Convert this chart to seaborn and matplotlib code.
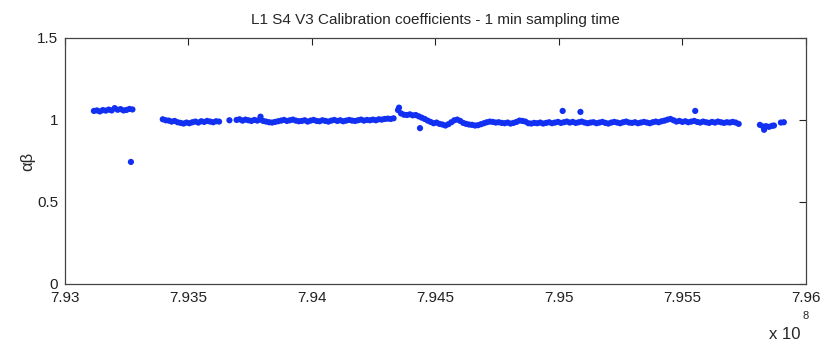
import numpy as np
import pandas as pd
import matplotlib
matplotlib.use("Agg")
import matplotlib.pyplot as plt
import seaborn as sns

# ---- data (time in units of 1e8 s, coefficient alpha*beta) ----
seg1_t = [7.93117, 7.93129, 7.93141, 7.93153, 7.93165, 7.93177, 7.93189,
          7.93201, 7.93213, 7.93225, 7.93237, 7.93249, 7.93261, 7.93273]
seg1_y = [1.055, 1.058, 1.052, 1.060, 1.057, 1.063, 1.058,
          1.072, 1.062, 1.066, 1.058, 1.061, 1.067, 1.064]

seg2_t = [7.93396, 7.93408, 7.93420, 7.93432, 7.93444, 7.93456, 7.93468,
          7.93480, 7.93492, 7.93504, 7.93516, 7.93528, 7.93540, 7.93552,
          7.93564, 7.93576, 7.93588, 7.93600, 7.93612, 7.93624]
seg2_y = [1.004, 0.998, 0.996, 0.990, 0.994, 0.986, 0.982,
          0.978, 0.984, 0.980, 0.986, 0.990, 0.984, 0.992,
          0.988, 0.994, 0.990, 0.986, 0.992, 0.990]

seg3_t = [7.93695, 7.93707, 7.93719, 7.93731, 7.93743, 7.93755, 7.93767,
          7.93779, 7.93791, 7.93803, 7.93815, 7.93827, 7.93839, 7.93851,
          7.93863, 7.93875, 7.93887, 7.93899, 7.93911, 7.93923, 7.93935,
          7.93947, 7.93959, 7.93971, 7.93983, 7.93995, 7.94007, 7.94019,
          7.94031, 7.94043, 7.94055, 7.94067, 7.94079, 7.94091, 7.94103,
          7.94115, 7.94127, 7.94139, 7.94151, 7.94163, 7.94175, 7.94187,
          7.94199, 7.94211, 7.94223, 7.94235, 7.94247, 7.94259, 7.94271,
          7.94283, 7.94295, 7.94307, 7.94319, 7.94331]
seg3_y = [1.000, 1.004, 0.996, 1.002, 0.998, 0.994, 1.000,
          0.996, 1.002, 0.994, 0.990, 0.986, 0.984, 0.988,
          0.992, 0.996, 1.000, 0.994, 0.998, 1.002, 0.996,
          0.992, 0.994, 0.998, 0.990, 0.996, 1.000, 0.994,
          0.992, 0.998, 0.994, 0.990, 0.996, 1.000, 0.994,
          0.998, 0.992, 0.996, 1.000, 0.996, 0.994, 0.998,
          1.002, 0.996, 1.000, 0.998, 1.002, 0.998, 1.004,
          1.002, 1.006, 1.008, 1.006, 1.010]

seg4_t = [7.94349, 7.94361, 7.94373, 7.94385, 7.94397, 7.94409, 7.94421,
          7.94433, 7.94445, 7.94457, 7.94469, 7.94481, 7.94493, 7.94505,
          7.94517, 7.94529, 7.94541, 7.94553, 7.94565, 7.94577, 7.94589,
          7.94601, 7.94613, 7.94625, 7.94637, 7.94649, 7.94661, 7.94673,
          7.94685, 7.94697, 7.94709, 7.94721, 7.94733, 7.94745, 7.94757,
          7.94769, 7.94781, 7.94793, 7.94805, 7.94817, 7.94829, 7.94841,
          7.94853, 7.94865, 7.94877, 7.94889, 7.94901, 7.94913, 7.94925,
          7.94937, 7.94949, 7.94961, 7.94973, 7.94985, 7.94997, 7.95009,
          7.95021, 7.95033, 7.95045, 7.95057, 7.95069, 7.95081, 7.95093,
          7.95105, 7.95117, 7.95129, 7.95141, 7.95153, 7.95165, 7.95177,
          7.95189, 7.95201, 7.95213, 7.95225, 7.95237, 7.95249, 7.95261,
          7.95273, 7.95285, 7.95297, 7.95309, 7.95321, 7.95333, 7.95345,
          7.95357, 7.95369, 7.95381, 7.95393, 7.95405, 7.95417, 7.95429,
          7.95441, 7.95453, 7.95465, 7.95477, 7.95489, 7.95501, 7.95513,
          7.95525, 7.95537, 7.95549, 7.95561, 7.95573, 7.95585, 7.95597,
          7.95609, 7.95621, 7.95633, 7.95645, 7.95657, 7.95669, 7.95681,
          7.95693, 7.95705, 7.95717, 7.95729]
seg4_y = [1.060, 1.040, 1.032, 1.030, 1.034, 1.028, 1.030,
          1.022, 1.014, 1.006, 0.996, 0.988, 0.980, 0.984,
          0.976, 0.972, 0.966, 0.974, 0.986, 0.998, 1.002,
          0.994, 0.982, 0.976, 0.972, 0.970, 0.966, 0.968,
          0.974, 0.980, 0.986, 0.990, 0.988, 0.984, 0.986,
          0.982, 0.980, 0.984, 0.978, 0.982, 0.988, 0.996,
          0.994, 0.990, 0.980, 0.978, 0.982, 0.980, 0.984,
          0.978, 0.982, 0.986, 0.980, 0.984, 0.988, 0.982,
          0.986, 0.990, 0.984, 0.988, 0.982, 0.986, 0.990,
          0.984, 0.980, 0.984, 0.986, 0.980, 0.984, 0.988,
          0.982, 0.978, 0.984, 0.988, 0.984, 0.980, 0.986,
          0.990, 0.984, 0.982, 0.986, 0.980, 0.984, 0.988,
          0.984, 0.980, 0.986, 0.990, 0.986, 0.992, 0.996,
          1.002, 1.006, 0.998, 0.990, 0.994, 0.988, 0.992,
          0.986, 0.990, 0.994, 0.988, 0.984, 0.990, 0.986,
          0.982, 0.988, 0.984, 0.990, 0.986, 0.982, 0.986,
          0.984, 0.988, 0.984, 0.976]

seg5_t = [7.95815, 7.95828, 7.95832, 7.95840, 7.95852, 7.95864, 7.95872,
          7.95900, 7.95912]
seg5_y = [0.970, 0.960, 0.940, 0.962, 0.958, 0.964, 0.966,
          0.984, 0.986]

extra_t = [7.93267, 7.93666, 7.93792, 7.94353, 7.94438, 7.95016, 7.95088, 7.95553]
extra_y = [0.744, 0.998, 1.020, 1.075, 0.950, 1.055, 1.049, 1.055]

x_ticks = [7.93, 7.935, 7.94, 7.945, 7.95, 7.955, 7.96]
x_tick_labels = ["7.93", "7.935", "7.94", "7.945", "7.95", "7.955", "7.96"]
y_ticks = [0, 0.5, 1, 1.5]
y_tick_labels = ["0", "0.5", "1", "1.5"]

title = "L1 S4 V3 Calibration coefficients - 1 min sampling time"

# ---- build table ----
t_all = seg1_t + seg2_t + seg3_t + seg4_t + seg5_t + extra_t
y_all = seg1_y + seg2_y + seg3_y + seg4_y + seg5_y + extra_y
df = pd.DataFrame({"t": np.array(t_all) * 1e8, "ab": y_all})

sns.set_style("white")
plt.rcParams["font.family"] = ["Liberation Sans", "DejaVu Sans"]

fig = plt.figure(figsize=(8.21, 3.48), dpi=100)
ax = fig.add_axes([0.0792, 0.184, 0.902, 0.707])

sns.scatterplot(data=df, x="t", y="ab", ax=ax, s=20, color="#1230f2",
                edgecolor="none", linewidth=0)

ax.set_xlim(7.93e8, 7.96e8)
ax.set_ylim(0, 1.5)
ax.set_xticks([v * 1e8 for v in x_ticks])
ax.set_xticklabels(x_tick_labels)
ax.set_yticks(y_ticks)
ax.set_yticklabels(y_tick_labels)
ax.tick_params(direction="in", top=True, right=True, length=5, width=0.8,
               labelsize=11, pad=5, colors="#222222")
for sp in ax.spines.values():
    sp.set_color("#444444")
    sp.set_linewidth(0.9)
ax.set_xlabel("")
ax.set_ylabel("αβ", fontsize=12, labelpad=1)
ax.set_title(title, fontsize=11, pad=10)

fig.text(0.937, 0.018, "x 10", fontsize=12, ha="left", va="bottom")
fig.text(0.977, 0.078, "8", fontsize=8, ha="left", va="bottom")

fig.savefig("out.png", dpi=100)
